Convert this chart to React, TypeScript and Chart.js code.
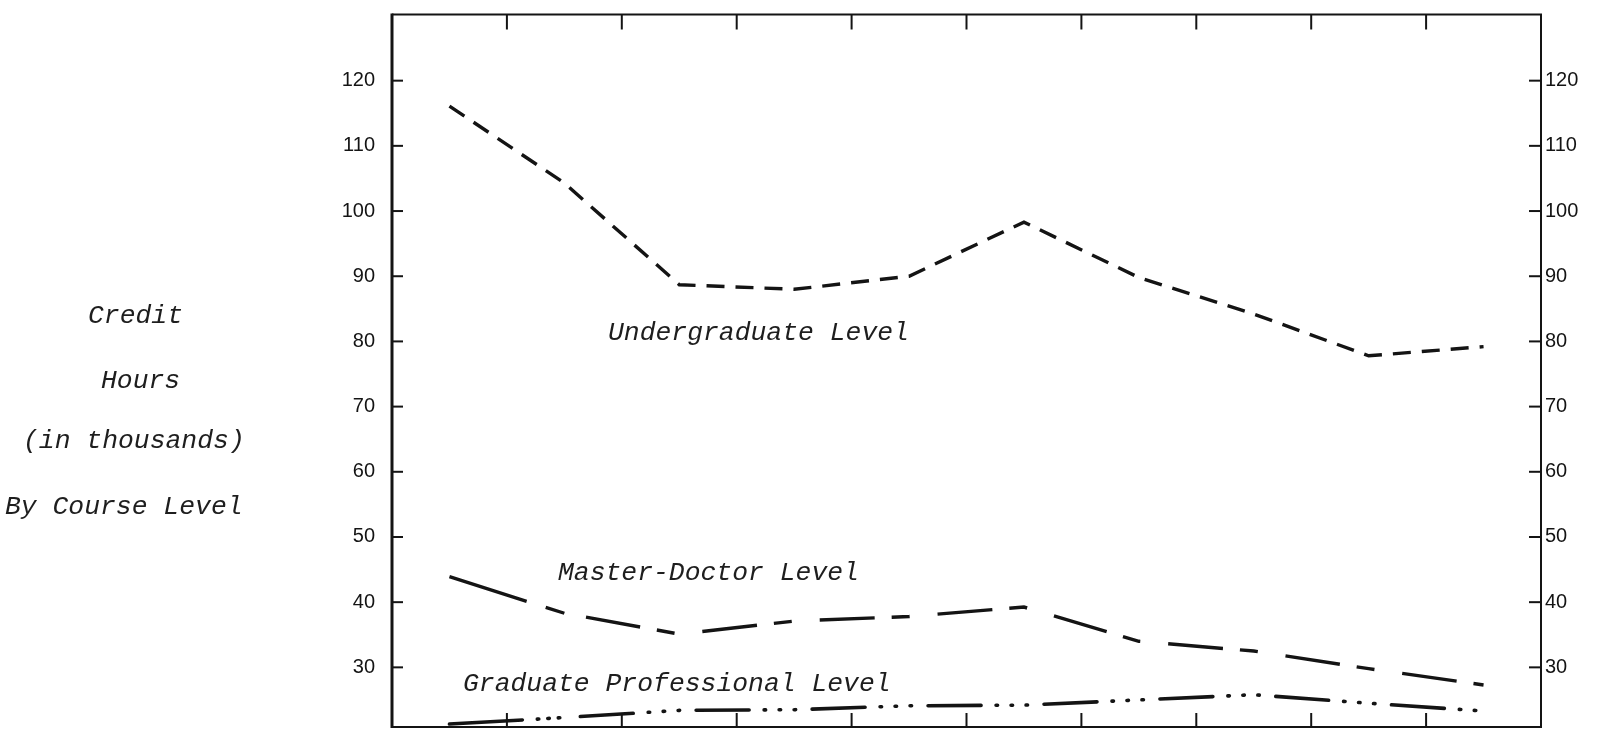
import React, { useEffect, useRef } from 'react';
import { Chart, registerables } from 'chart.js';

Chart.register(...registerables);

// ---- data ----
const categories = ['1', '2', '3', '4', '5', '6', '7', '8', '9', '10'];
const undergraduate = [116.1, 104.3, 88.7, 88.0, 90.0, 98.3, 89.8, 84.2, 77.8, 79.2];
const masterDoctor = [43.9, 38.3, 35.1, 37.1, 37.8, 39.25, 34.0, 32.5, 29.8, 27.3];
const graduateProfessional = [21.3, 22.3, 23.4, 23.5, 24.1, 24.2, 25.0, 25.8, 24.5, 23.3];
const yTickValues = [120, 110, 100, 90, 80, 70, 60, 50, 40, 30];
const yMin = 20.85;
const yMax = 130.15;
const sideTitleLines = ['Credit', 'Hours', '(in thousands)', 'By Course Level'];
const seriesLabels = ['Undergraduate Level', 'Master-Doctor Level', 'Graduate Professional Level'];

const INK = '#141414';
const TYPE_FONT = 'italic 26.4px "Liberation Mono", "DejaVu Sans Mono", monospace';
const TICK_FONT = { family: '"Liberation Sans", Arial, sans-serif', size: 20 };

const framePlugin = {
  id: 'typedFrame',
  afterDraw(chart: any) {
    const { ctx, chartArea: a, scales } = chart;
    const x = scales.x;
    const y = scales.y;
    const line = (x1: number, y1: number, x2: number, y2: number) => {
      ctx.beginPath();
      ctx.moveTo(x1, y1);
      ctx.lineTo(x2, y2);
      ctx.stroke();
    };
    ctx.save();
    ctx.strokeStyle = INK;
    ctx.lineCap = 'butt';
    ctx.setLineDash([]);
    // frame
    ctx.lineWidth = 2;
    ctx.beginPath();
    ctx.moveTo(a.left, a.top);
    ctx.lineTo(a.right, a.top);
    ctx.lineTo(a.right, a.bottom);
    ctx.lineTo(a.left, a.bottom);
    ctx.stroke();
    ctx.lineWidth = 3;
    line(a.left, a.top - 1, a.left, a.bottom + 1);
    // y tick marks (inward, both sides)
    ctx.lineWidth = 2;
    yTickValues.forEach((v) => {
      const py = y.getPixelForValue(v);
      line(a.left, py, a.left + 11, py);
      line(a.right - 12, py, a.right, py);
    });
    // x tick marks at category boundaries (top & bottom, inward)
    for (let i = 0; i < categories.length - 1; i++) {
      const px = (x.getPixelForValue(i) + x.getPixelForValue(i + 1)) / 2;
      line(px, a.top, px, a.top + 15);
      line(px, a.bottom, px, a.bottom - 14);
    }
    // typed texts
    ctx.fillStyle = '#1e1e1e';
    ctx.font = TYPE_FONT;
    ctx.textAlign = 'left';
    ctx.textBaseline = 'alphabetic';
    const sidePos = [
      [88, 323],
      [101, 388],
      [23, 448],
      [5, 514],
    ];
    sideTitleLines.forEach((t, i) => ctx.fillText(t, sidePos[i][0], sidePos[i][1]));
    const seriesPos = [
      [608, 340],
      [558, 580],
      [463, 691],
    ];
    seriesLabels.forEach((t, i) => ctx.fillText(t, seriesPos[i][0], seriesPos[i][1]));
    ctx.restore();
  },
};

export default function App() {
  const ref = useRef<HTMLCanvasElement | null>(null);

  useEffect(() => {
    if (!ref.current) return;
    const yCommon = {
      type: 'linear' as const,
      min: yMin,
      max: yMax,
      afterBuildTicks: (s: any) => {
        s.ticks = yTickValues.map((v) => ({ value: v }));
      },
      grid: { display: false, drawTicks: false },
      border: { display: false },
    };
    const first = (c: any) => c.p0DataIndex === 0;
    const gradDash = [53, 15, 1.5, 13.5, 1.5, 13.5, 1.5, 16.5];
    const gradFirst = [73, 15, 1.5, 9, 1.5, 9, 1.5, 100];
    const mdDash = [55, 17, 18, 28];
    const mdFirst = [81, 20, 100, 10];
    const chart = new Chart(ref.current, {
      type: 'line',
      data: {
        labels: categories,
        datasets: [
          {
            label: seriesLabels[0],
            data: undergraduate,
            borderColor: INK,
            borderWidth: 3.4,
            borderDash: [18, 11],
            borderDashOffset: 0,
            pointRadius: 0,
            fill: false,
            tension: 0,
          },
          {
            label: seriesLabels[1],
            data: masterDoctor,
            borderColor: INK,
            borderWidth: 3.4,
            borderDash: mdDash,
            borderDashOffset: 96,
            segment: {
              borderDash: (c: any) => (first(c) ? mdFirst : mdDash),
              borderDashOffset: (c: any) => (first(c) ? 0 : 96),
            },
            pointRadius: 0,
            fill: false,
            tension: 0,
          },
          {
            label: seriesLabels[2],
            data: graduateProfessional,
            borderColor: INK,
            borderWidth: 3.6,
            borderCapStyle: 'round',
            borderDash: gradDash,
            borderDashOffset: 100,
            segment: {
              borderDash: (c: any) => (first(c) ? gradFirst : gradDash),
              borderDashOffset: (c: any) => (first(c) ? 0 : 100),
            },
            pointRadius: 0,
            fill: false,
            tension: 0,
          },
        ],
      },
      options: {
        animation: false,
        responsive: false,
        maintainAspectRatio: false,
        devicePixelRatio: 1,
        layout: { padding: { top: 14.5, bottom: 5, left: 0, right: 0 } },
        plugins: {
          legend: { display: false },
          tooltip: { enabled: false },
        },
        scales: {
          x: { type: 'category', display: false, offset: true },
          y: {
            ...yCommon,
            position: 'left',
            afterFit: (s: any) => {
              s.width = 392;
              s.paddingTop = 0;
              s.paddingBottom = 0;
            },
            ticks: { padding: 17, color: INK, font: TICK_FONT },
          },
          y2: {
            ...yCommon,
            position: 'right',
            afterFit: (s: any) => {
              s.width = 57;
              s.paddingTop = 0;
              s.paddingBottom = 0;
            },
            ticks: { padding: 4, color: INK, font: TICK_FONT },
          },
        },
      },
      plugins: [framePlugin],
    } as any);
    return () => chart.destroy();
  }, []);

  return (
    <div style={{ position: 'fixed', left: 0, top: 0, width: 1598, height: 732, background: '#fff' }}>
      <canvas ref={ref} width={1598} height={732} style={{ width: 1598, height: 732, display: 'block' }} />
    </div>
  );
}
